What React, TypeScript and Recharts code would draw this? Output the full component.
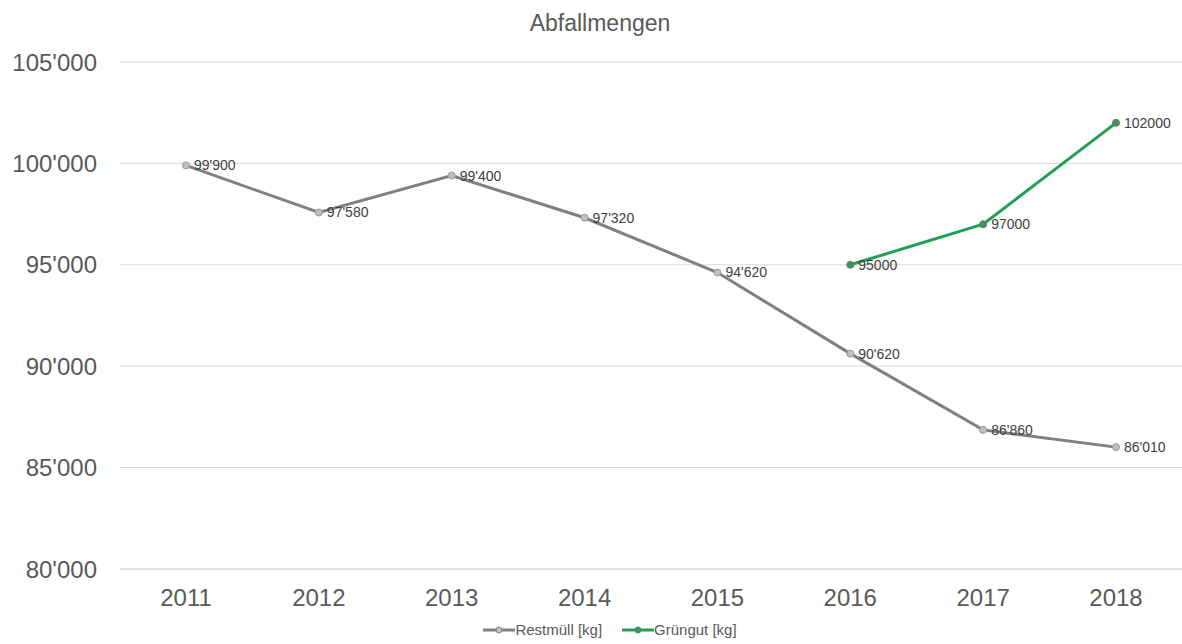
import React from 'react';
import { LineChart, Line, XAxis, YAxis, CartesianGrid, Legend, LabelList } from 'recharts';

const years = ['2011', '2012', '2013', '2014', '2015', '2016', '2017', '2018'];
const restmuell = [99900, 97580, 99400, 97320, 94620, 90620, 86860, 86010];
const gruengut: (number | null)[] = [null, null, null, null, null, 95000, 97000, 102000];
const yTicks = [80000, 85000, 90000, 95000, 100000, 105000];

const chartData = years.map((year, i) => ({
  year,
  rest: restmuell[i],
  gruen: gruengut[i],
}));

const fmtSwiss = (v: number) => String(v).replace(/\B(?=(\d{3})+(?!\d))/g, "'");

const font = '"Liberation Sans", Arial, sans-serif';

function LegendContent() {
  const items = [
    { label: 'Restmüll [kg]', line: '#808080', dot: '#bfbfbf' },
    { label: 'Grüngut [kg]', line: '#1fa055', dot: '#4e8a62' },
  ];
  return (
    <div style={{ display: 'flex', justifyContent: 'center', gap: 20, fontFamily: font, fontSize: 15, color: '#595959', marginTop: 12, paddingLeft: 38 }}>
      {items.map((it) => (
        <div key={it.label} style={{ display: 'flex', alignItems: 'center' }}>
          <svg width={32} height={10}>
            <line x1={0} y1={5} x2={32} y2={5} stroke={it.line} strokeWidth={3} />
            <circle cx={16} cy={5} r={3} fill={it.dot} stroke={it.line} strokeWidth={1} />
          </svg>
          <span>{it.label}</span>
        </div>
      ))}
    </div>
  );
}

export default function App() {
  return (
    <div style={{ position: 'absolute', left: 0, top: 0, width: 1182, height: 644, background: '#fff', fontFamily: font }}>
      <div style={{ position: 'absolute', top: 10, left: 0, width: 1200, textAlign: 'center', fontSize: 23, color: '#595959' }}>
        Abfallmengen
      </div>
      <LineChart width={1182} height={644} data={chartData} margin={{ top: 62, right: 0, left: 0, bottom: 0 }}>
        <CartesianGrid vertical={false} stroke="#d9d9d9" strokeWidth={1} />
        <XAxis
          dataKey="year"
          height={40}
          padding={{ left: 66, right: 66 }}
          axisLine={{ stroke: '#d9d9d9' }}
          tickLine={false}
          tickSize={0}
          tickMargin={20}
          tick={{ fontSize: 24, fill: '#595959', fontFamily: font }}
        />
        <YAxis
          width={120}
          domain={[80000, 105000]}
          ticks={yTicks}
          axisLine={false}
          tickLine={false}
          tickSize={0}
          tickMargin={23}
          tickFormatter={fmtSwiss}
          tick={{ fontSize: 24, fill: '#595959', fontFamily: font }}
        />
        <Legend verticalAlign="bottom" height={35} content={<LegendContent />} />
        <Line
          dataKey="rest"
          stroke="#808080"
          strokeWidth={3}
          dot={{ r: 3.5, fill: '#bfbfbf', stroke: '#9a9a9a', strokeWidth: 1 }}
          isAnimationActive={false}
        >
          <LabelList dataKey="rest" position="right" offset={8} formatter={(v: any) => fmtSwiss(v)} style={{ fontSize: 14, fill: '#404040', fontFamily: font }} />
        </Line>
        <Line
          dataKey="gruen"
          stroke="#1fa055"
          strokeWidth={3}
          connectNulls={false}
          dot={{ r: 3.5, fill: '#4e8a62', stroke: '#4e8a62', strokeWidth: 1 }}
          isAnimationActive={false}
        >
          <LabelList dataKey="gruen" position="right" offset={8} style={{ fontSize: 14, fill: '#404040', fontFamily: font }} />
        </Line>
      </LineChart>
    </div>
  );
}
